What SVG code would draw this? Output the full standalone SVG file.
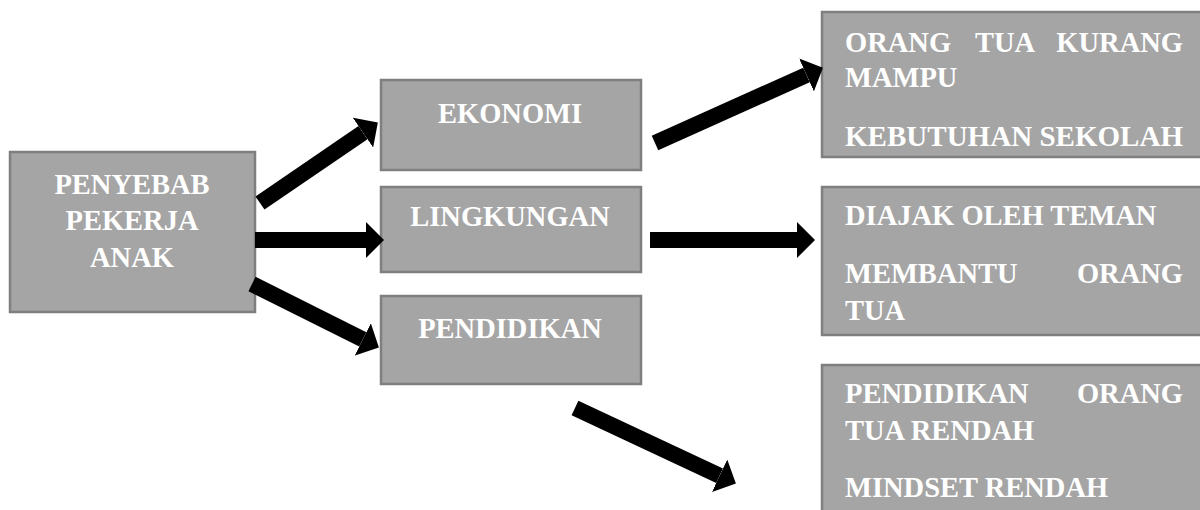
<svg xmlns="http://www.w3.org/2000/svg" width="1200" height="510" viewBox="0 0 1200 510">
<style>
.box{fill:#a5a5a5;stroke:#7f7f7f;stroke-width:2.5}
.t{font-family:"Liberation Serif","Times New Roman",serif;font-weight:bold;font-size:28.5px;fill:#ffffff}
.c{text-anchor:middle}
.e{text-anchor:end}
.arr{stroke:#000;stroke-width:16;fill:none;marker-end:url(#head)}
</style>
<defs>
<marker id="head" markerUnits="userSpaceOnUse" markerWidth="18" markerHeight="36" viewBox="0 0 18 36" refX="0" refY="18" orient="auto">
<path d="M0,0 L18,18 L0,36 z" fill="#000"/>
</marker>
</defs>
<rect width="1200" height="510" fill="#fff"/>
<g id="node-penyebab">
<rect class="box" x="10" y="152" width="245" height="160"/>
<text class="t c" x="132" y="194">PENYEBAB</text>
<text class="t c" x="132" y="230">PEKERJA</text>
<text class="t c" x="132" y="267">ANAK</text>
</g>
<g id="node-ekonomi">
<rect class="box" x="381" y="80" width="260" height="90"/>
<text class="t c" x="510" y="123">EKONOMI</text>
</g>
<g id="node-lingkungan">
<rect class="box" x="381" y="187" width="260" height="85"/>
<text class="t c" x="510" y="226">LINGKUNGAN</text>
</g>
<g id="node-pendidikan">
<rect class="box" x="381" y="296" width="260" height="88"/>
<text class="t c" x="510" y="338">PENDIDIKAN</text>
</g>
<g id="node-ekonomi-detail">
<rect class="box" x="822" y="12" width="390" height="145"/>
<text class="t" y="52"><tspan x="845">ORANG</tspan><tspan x="975">TUA</tspan><tspan x="1183" text-anchor="end">KURANG</tspan></text>
<text class="t" x="845" y="87">MAMPU</text>
<text class="t" x="845" y="146" textLength="338" lengthAdjust="spacingAndGlyphs">KEBUTUHAN SEKOLAH</text>
</g>
<g id="node-lingkungan-detail">
<rect class="box" x="822" y="187" width="390" height="148"/>
<text class="t" x="845" y="225">DIAJAK OLEH TEMAN</text>
<text class="t" y="283"><tspan x="845">MEMBANTU</tspan><tspan x="1183" text-anchor="end">ORANG</tspan></text>
<text class="t" x="845" y="320">TUA</text>
</g>
<g id="node-pendidikan-detail">
<rect class="box" x="822" y="365" width="390" height="160"/>
<text class="t" y="403"><tspan x="845">PENDIDIKAN</tspan><tspan x="1183" text-anchor="end">ORANG</tspan></text>
<text class="t" x="845" y="440">TUA RENDAH</text>
<text class="t" x="845" y="497">MINDSET RENDAH</text>
</g>
<g id="connectors">
<line class="arr" x1="260" y1="203" x2="363" y2="132.6"/>
<line class="arr" x1="255" y1="240" x2="366" y2="240"/>
<line class="arr" x1="252" y1="284" x2="362.8" y2="339.4"/>
<line class="arr" x1="655" y1="143" x2="806.5" y2="75"/>
<line class="arr" x1="650" y1="240" x2="797" y2="240"/>
<line class="arr" x1="575" y1="408" x2="719.6" y2="475.8"/>
</g>
</svg>
